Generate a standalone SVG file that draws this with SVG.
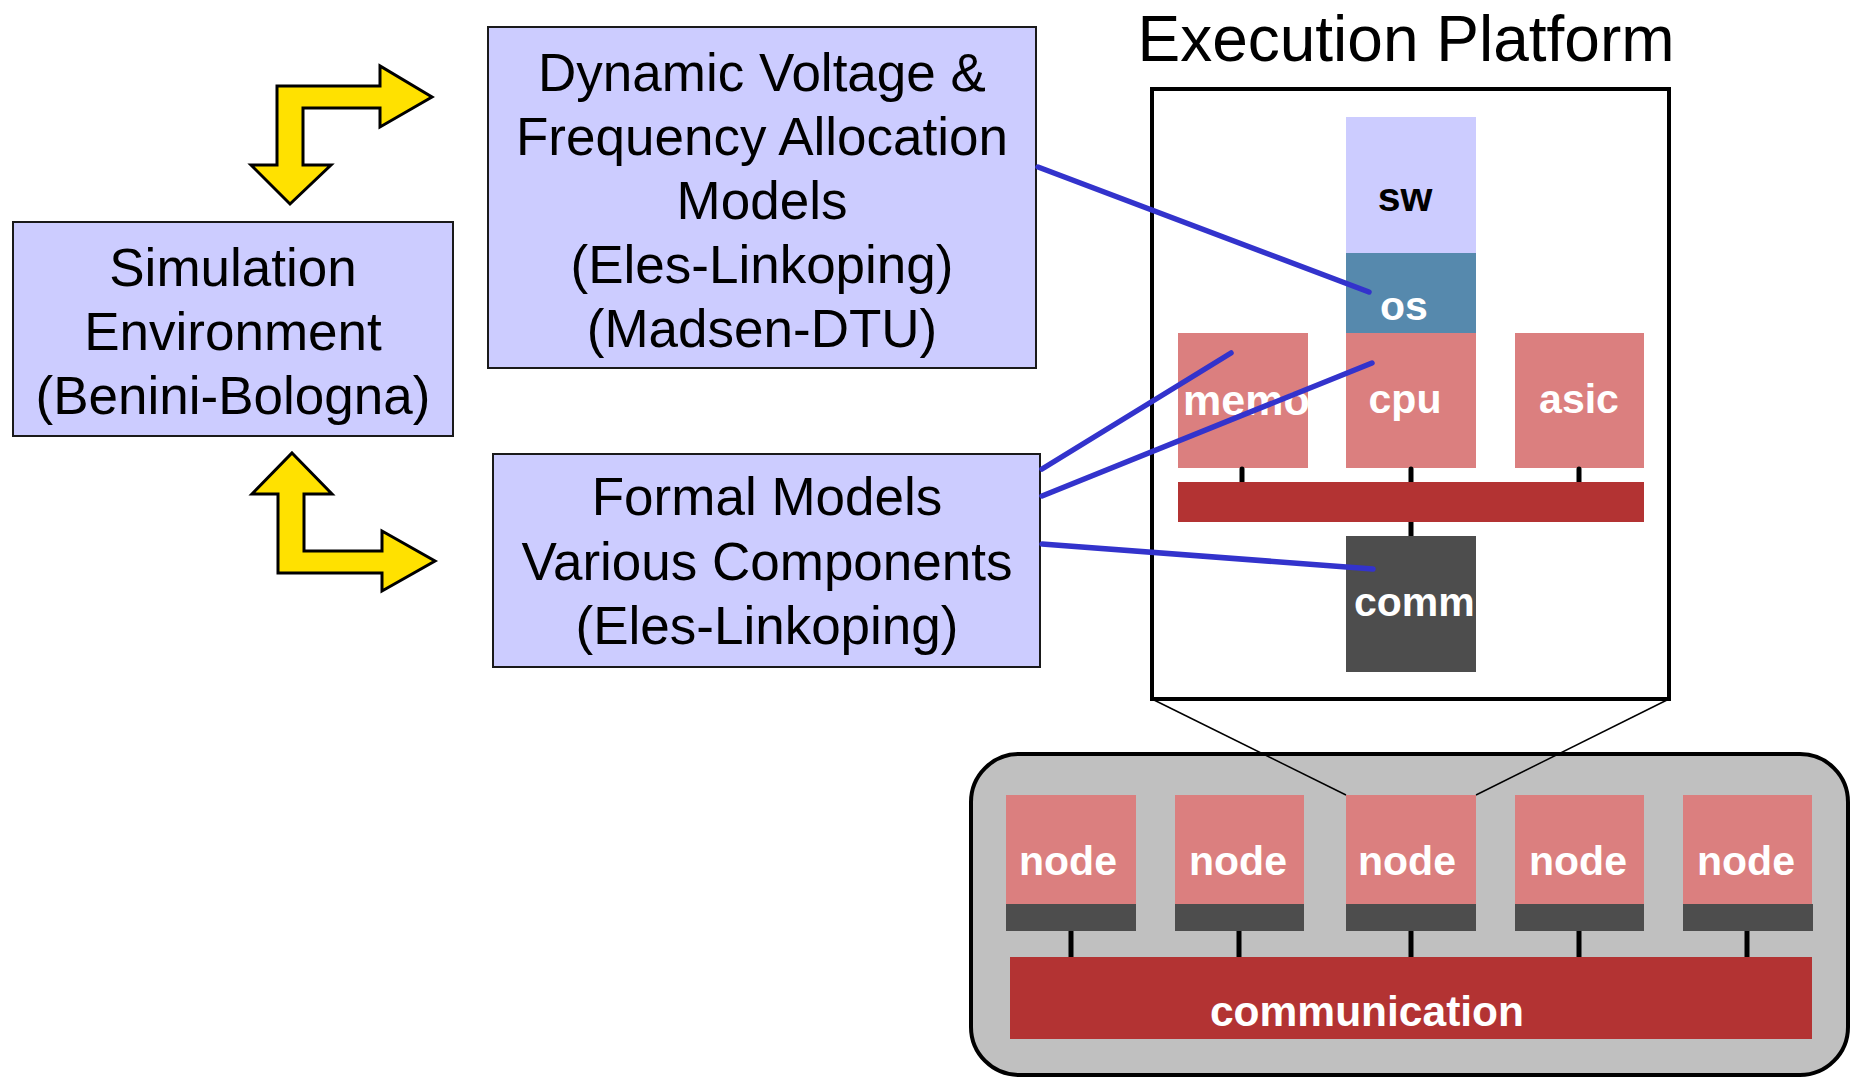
<svg xmlns="http://www.w3.org/2000/svg" width="1851" height="1077" viewBox="0 0 1851 1077">
  <style>
    .box { fill: #ccccff; stroke: #1a1a1a; stroke-width: 2; }
    .big { font-family: "Liberation Sans", Arial, sans-serif; font-size: 53px; fill: #000; text-anchor: middle; }
    .lbl { font-family: "Liberation Sans", Arial, sans-serif; font-weight: bold; font-size: 41px; fill: #fff; }
    .mid { text-anchor: middle; }
    .pink { fill: #db7f7f; }
    .bus { fill: #b33333; }
    .dark { fill: #4d4d4d; }
    .tick { stroke: #000; stroke-width: 5; stroke-linecap: round; }
    .link { stroke: #3333cc; stroke-width: 5.5; stroke-linecap: round; fill: none; }
    .yarrow { fill: #ffe100; stroke: #000; stroke-width: 3; stroke-linejoin: miter; }
  </style>
  <defs>
    <clipPath id="clip-memo"><rect x="1178" y="333" width="130" height="135"/></clipPath>
    <clipPath id="clip-comm"><rect x="1346" y="536" width="130" height="136"/></clipPath>
  </defs>

  <rect width="1851" height="1077" fill="#fff"/>

  <!-- exchange arrows -->
  <g id="arrow-top">
    <polygon class="yarrow" points="277,86 380,86 380,66 432,97 380,127 380,108 303,108 303,165 331,165 290,204 251,165 277,165"/>
  </g>
  <g id="arrow-bottom">
    <polygon class="yarrow" points="292,453 332,494 304,494 304,551 382,551 382,531 435,561 382,591 382,573 278,573 278,494 252,494"/>
  </g>

  <g id="simulation">
    <rect class="box" x="13" y="222" width="440" height="214"/>
    <text class="big" x="233" y="286">Simulation</text>
    <text class="big" x="233" y="350">Environment</text>
    <text class="big" x="233" y="414">(Benini-Bologna)</text>
  </g>

  <g id="dvfa-models">
    <rect class="box" x="488" y="27" width="548" height="341"/>
    <text class="big" x="762" y="91">Dynamic Voltage &amp;</text>
    <text class="big" x="762" y="155">Frequency Allocation</text>
    <text class="big" x="762" y="219">Models</text>
    <text class="big" x="762" y="283">(Eles-Linkoping)</text>
    <text class="big" x="762" y="347">(Madsen-DTU)</text>
  </g>

  <g id="formal-models">
    <rect class="box" x="493" y="454" width="547" height="213"/>
    <text class="big" x="767" y="515">Formal Models</text>
    <text class="big" x="767" y="580">Various Components</text>
    <text class="big" x="767" y="644">(Eles-Linkoping)</text>
  </g>

  <!-- execution platform detail -->
  <g id="execution-platform">
    <text x="1406" y="61" font-family="Liberation Sans, Arial, sans-serif" font-size="64" text-anchor="middle" fill="#000">Execution Platform</text>
    <rect x="1152" y="89" width="517" height="610" fill="#fff" stroke="#000" stroke-width="4"/>
  </g>

  <g id="sw">
    <rect x="1346" y="117" width="130" height="136" fill="#ccccff"/>
    <text class="lbl mid" x="1405" y="211" style="fill:#000">sw</text>
  </g>
  <g id="os">
    <rect x="1346" y="253" width="130" height="81" fill="#5689ad"/>
    <text class="lbl mid" x="1404" y="320">os</text>
  </g>
  <g id="memo">
    <rect class="pink" x="1178" y="333" width="130" height="135"/>
    <text class="lbl" x="1183" y="415" clip-path="url(#clip-memo)" style="font-size:43px">memo</text>
  </g>
  <g id="cpu">
    <rect class="pink" x="1346" y="333" width="130" height="135"/>
    <text class="lbl mid" x="1405" y="413">cpu</text>
  </g>
  <g id="asic">
    <rect class="pink" x="1515" y="333" width="129" height="135"/>
    <text class="lbl mid" x="1579" y="413">asic</text>
  </g>
  <g id="local-bus">
    <line class="tick" x1="1242" y1="469" x2="1242" y2="484"/>
    <line class="tick" x1="1411" y1="469" x2="1411" y2="484"/>
    <line class="tick" x1="1579" y1="469" x2="1579" y2="484"/>
    <line class="tick" x1="1411" y1="520" x2="1411" y2="537"/>
    <rect class="bus" x="1178" y="482" width="466" height="40"/>
  </g>
  <g id="comm">
    <rect class="dark" x="1346" y="536" width="130" height="136"/>
    <text class="lbl" x="1354" y="616" clip-path="url(#clip-comm)">comm</text>
  </g>

  <!-- system of nodes -->
  <g id="system">
    <rect x="971" y="754" width="877" height="321" rx="48" ry="48" fill="#c0c0c0" stroke="#000" stroke-width="4"/>
    <g id="system-ticks">
      <line class="tick" x1="1071" y1="930" x2="1071" y2="958"/>
      <line class="tick" x1="1239" y1="930" x2="1239" y2="958"/>
      <line class="tick" x1="1411" y1="930" x2="1411" y2="958"/>
      <line class="tick" x1="1579" y1="930" x2="1579" y2="958"/>
      <line class="tick" x1="1747" y1="930" x2="1747" y2="958"/>
    </g>
  </g>
  <g id="node-1">
    <rect class="pink" x="1006" y="795" width="130" height="109"/>
    <rect class="dark" x="1006" y="904" width="130" height="27"/>
    <text class="lbl mid" x="1068" y="875">node</text>
  </g>
  <g id="node-2">
    <rect class="pink" x="1175" y="795" width="129" height="109"/>
    <rect class="dark" x="1175" y="904" width="129" height="27"/>
    <text class="lbl mid" x="1238" y="875">node</text>
  </g>
  <g id="node-3">
    <rect class="pink" x="1346" y="795" width="130" height="109"/>
    <rect class="dark" x="1346" y="904" width="130" height="27"/>
    <text class="lbl mid" x="1407" y="875">node</text>
  </g>
  <g id="node-4">
    <rect class="pink" x="1515" y="795" width="129" height="109"/>
    <rect class="dark" x="1515" y="904" width="129" height="27"/>
    <text class="lbl mid" x="1578" y="875">node</text>
  </g>
  <g id="node-5">
    <rect class="pink" x="1683" y="795" width="129" height="109"/>
    <rect class="dark" x="1683" y="904" width="130" height="27"/>
    <text class="lbl mid" x="1746" y="875">node</text>
  </g>
  <g id="communication">
    <rect class="bus" x="1010" y="957" width="802" height="82"/>
    <text class="lbl mid" x="1367" y="1026" style="font-size:42.5px">communication</text>
  </g>

  <!-- connectors -->
  <g id="connectors">
    <line x1="1152" y1="699" x2="1346" y2="795" stroke="#000" stroke-width="1.5"/>
    <line x1="1669" y1="699" x2="1476" y2="795" stroke="#000" stroke-width="1.5"/>
    <line class="link" x1="1038" y1="167" x2="1369" y2="292"/>
    <line class="link" x1="1042" y1="469" x2="1231" y2="353"/>
    <line class="link" x1="1042" y1="496" x2="1372" y2="363"/>
    <line class="link" x1="1042" y1="544" x2="1373" y2="569"/>
  </g>
</svg>
